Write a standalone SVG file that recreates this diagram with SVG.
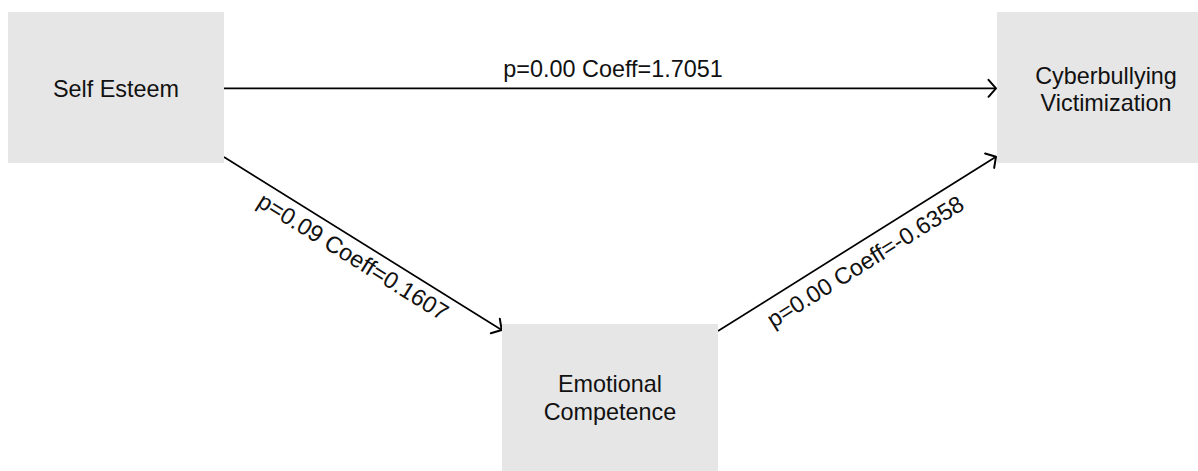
<svg xmlns="http://www.w3.org/2000/svg" width="1198" height="471" viewBox="0 0 1198 471">
<defs>
<style>
.box{fill:#e6e6e6;stroke:none}
.lbl{font-family:"Liberation Sans",Arial,Helvetica,sans-serif;font-size:23.4px;fill:#111;text-anchor:middle}
.edge{stroke:#000;stroke-width:1.7;fill:none}
</style>
<marker id="arr" markerUnits="userSpaceOnUse" orient="auto" markerWidth="24" markerHeight="24" viewBox="-12 -12 24 24" refX="0" refY="0" overflow="visible">
<path d="M-7.5,-8.5 L0,0 L-7.5,8.5" fill="none" stroke="#000" stroke-width="2" stroke-linecap="round" stroke-linejoin="round"/>
</marker>
</defs>
<rect width="1198" height="471" fill="#fff"/>
<g id="connectors">
<g id="e1">
<line class="edge" x1="224" y1="88.3" x2="996" y2="88.3" marker-end="url(#arr)"/>
<text class="lbl" x="613" y="77">p=0.00 Coeff=1.7051</text>
</g>
<g id="e2">
<line class="edge" x1="224" y1="157" x2="501.7" y2="330" marker-end="url(#arr)"/>
<text class="lbl" transform="translate(352.5,257.5) rotate(31.9)" x="0" y="7">p=0.09 Coeff=0.1607</text>
</g>
<g id="e3">
<line class="edge" x1="718" y1="331" x2="996" y2="156.7" marker-end="url(#arr)"/>
<text class="lbl" transform="translate(865.8,262.5) rotate(-32)" x="0" y="7">p=0.00 Coeff=-0.6358</text>
</g>
</g>
<g id="self-esteem">
<rect class="box" x="8" y="12" width="216" height="151"/>
<text class="lbl" x="116" y="97.3">Self Esteem</text>
</g>
<g id="cyberbullying-victimization">
<rect class="box" x="997" y="12" width="218" height="151"/>
<text class="lbl" x="1106" y="84">Cyberbullying</text>
<text class="lbl" x="1106" y="111">Victimization</text>
</g>
<g id="emotional-competence">
<rect class="box" x="502" y="324" width="216" height="151"/>
<text class="lbl" x="610" y="391.7">Emotional</text>
<text class="lbl" x="610" y="419.5">Competence</text>
</g>
</svg>
